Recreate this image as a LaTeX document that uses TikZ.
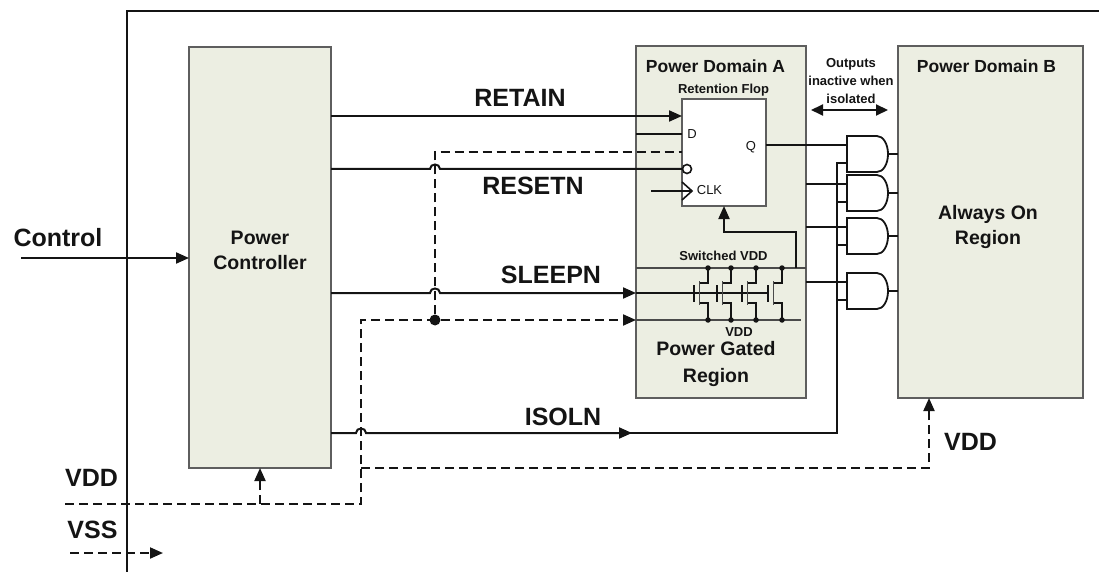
\documentclass[tikz,border=0pt]{standalone}
\usepackage{fontspec}
\setmainfont{Liberation Sans}
\usetikzlibrary{arrows.meta,calc}
\definecolor{boxfill}{HTML}{ECEEE2}
\definecolor{boxline}{HTML}{5E5E5E}
\definecolor{ink}{HTML}{141414}
\definecolor{rail}{HTML}{4A4A4A}
\tikzset{
  andg/.pic={
    \draw[draw=ink, fill=white, line width=1.8pt] (0,0) -- (30,0)
      .. controls (36.1,0) and (41,7.8) .. (41,18)
      .. controls (41,28.2) and (36.1,36) .. (30,36) -- (0,36) -- cycle;
    \coordinate (-in1) at (0,9);
    \coordinate (-in2) at (0,27);
    \coordinate (-out) at (41,18);
  }
}
\begin{document}
\begin{tikzpicture}[x=1pt,y=-1pt,
  box/.style={draw=boxline, fill=boxfill, line width=1.5pt, inner sep=0pt, outer sep=0pt},
  flopbox/.style={draw=boxline, fill=white, line width=1.5pt, inner sep=0pt, outer sep=0pt},
  wire/.style={draw=ink, line width=2pt},
  twire/.style={draw=ink, line width=1.6pt},
  railw/.style={draw=rail, line width=1.6pt},
  dwire/.style={draw=ink, line width=2pt, dash pattern=on 9pt off 5pt},
  tip/.style={-{Triangle[length=13pt,width=11pt]}},
  dtips/.style={{Triangle[length=12pt,width=11pt]}-{Triangle[length=12pt,width=11pt]}},
  sig/.style={font=\fontsize{25}{30}\selectfont\bfseries, text=ink, text height=17.9pt, text depth=0pt, inner sep=0pt},
  mid/.style={font=\fontsize{19.5}{24}\selectfont\bfseries, text=ink, text height=14pt, text depth=0pt, inner sep=0pt},
  dom/.style={font=\fontsize{17.5}{21}\selectfont\bfseries, text=ink, text height=12.5pt, text depth=0pt, inner sep=0pt},
  sml/.style={font=\fontsize{13}{16}\selectfont\bfseries, text=ink, text height=9.3pt, text depth=0pt, inner sep=0pt},
  pin/.style={font=\fontsize{13}{16}\selectfont, text=ink, text height=9.3pt, text depth=0pt, inner sep=0pt},
  dot/.style={circle, fill=ink, inner sep=0pt, minimum size=#1},
]
\useasboundingbox (0,0) rectangle (1099,572);

% outer frame
\coordinate (fbl) at (127,572);
\coordinate (ftl) at (127,11);
\coordinate (ftr) at (1099,11);
\draw[draw=ink, line width=2.2pt] (fbl) -- (ftl) -- (ftr);

% blocks
\node[box, minimum width=142pt, minimum height=421pt] (pc) at (260,257.5) {};
\node[box, minimum width=170pt, minimum height=352pt] (pda) at (721,222) {};
\node[box, minimum width=185pt, minimum height=352pt] (pdb) at (990.5,222) {};
\node[flopbox, minimum width=84pt, minimum height=107pt] (flop) at (724,152.5) {};

% control input
\coordinate (ctl) at (21,258);
\draw[wire,tip] (ctl) -- (ctl -| pc.west);

% RETAIN
\coordinate (ret) at (682,116);
\draw[wire,tip] (pc.east |- ret) -- (ret);

% D input
\coordinate (din) at (682,134);
\draw[twire] (pda.west |- din) -- (din);

% RESETN with hop
\coordinate (rs0) at (331,169);
\coordinate (rs1) at (682.5,169);
\draw[wire] (rs0) -- (430,169) .. controls (430,163) and (440,163) .. (440,169) -- (rs1);
\node[circle, draw=ink, fill=white, line width=1.6pt, minimum size=9pt, inner sep=0pt] (bub) at (687,169) {};

% CLK
\coordinate (clk0) at (651,191);
\coordinate (clk1) at (692,191);
\draw[twire] (clk0) -- (clk1);
\draw[twire] (682,182) -- (clk1) -- (682,200);

% rails
\coordinate (sw0) at (636,268);
\coordinate (sw1) at (806,268);
\coordinate (vd0) at (636,320);
\coordinate (vd1) at (801,320);
\draw[railw] (sw0) -- (sw1);
\draw[railw] (vd0) -- (vd1);

% flop power from switched rail
\coordinate (fp0) at (796,268);
\draw[wire,tip] (fp0) -- (796,232) -- (724,232) -- (flop.south);

% SLEEPN with hop
\coordinate (sl0) at (331,293);
\coordinate (sl1) at (636,293);
\coordinate (sl2) at (768,293);
\draw[wire,tip] (sl0) -- (430,293) .. controls (430,287) and (440,287) .. (440,293) -- (sl1);
\draw[twire] (sl1) -- (sl2);

% transistors
\foreach \cx in {708,731,756,782} {
  \draw[twire] (\cx,268) -- (\cx,283) -- (\cx-8.5,283);
  \draw[draw=rail, line width=1.6pt] (\cx-8.5,281) -- (\cx-8.5,305);
  \draw[twire] (\cx-8.5,303) -- (\cx,303) -- (\cx,320);
  \draw[twire] (\cx-14,285) -- (\cx-14,302);
  \node[dot=5.5pt] at (\cx,268) {};
  \node[dot=5.5pt] at (\cx,320) {};
}

% isolation gates
\pic (g1) at (847,136) {andg};
\pic (g2) at (847,175) {andg};
\pic (g3) at (847,218) {andg};
\pic (g4) at (847,273) {andg};
\draw[twire] (flop.east |- g1-in1) -- (g1-in1);
\draw[twire] (pda.east |- g2-in1) -- (g2-in1);
\draw[twire] (pda.east |- g3-in1) -- (g3-in1);
\draw[twire] (pda.east |- g4-in1) -- (g4-in1);
\foreach \g in {g1,g2,g3,g4} {
  \draw[twire] (\g-out) -- (pdb.west |- \g-out);
}

% ISOLN
\coordinate (is0) at (331,433);
\coordinate (isa) at (632,433);
\coordinate (isc) at (837,433);
\draw[wire,tip] (is0) -- (356,433) .. controls (356,427) and (366,427) .. (366,433) -- (isa);
\draw[wire] (625,433) -- (isc) -- (isc |- g1-in2) -- (g1-in2);
\draw[twire] (isc |- g2-in2) -- (g2-in2);
\draw[twire] (isc |- g3-in2) -- (g3-in2);
\draw[twire] (isc |- g4-in2) -- (g4-in2);

% VDD distribution (dashed)
\coordinate (vddl) at (65,504);
\coordinate (vc) at (361,504);
\coordinate (vbr) at (361,468);
\coordinate (vbB) at (929,468);
\draw[dwire,tip] (vddl) -- (vc) -- (361,320) -- (vd0);
\draw[dwire,tip] (vbr) -- (vbB) -- (vbB |- pdb.south);
\coordinate (pcv) at (260,504);
\draw[dwire,tip] (pcv) -- (pc.south);
\node[dot=11pt] (jn) at (435,320) {};
\coordinate (rtd) at (682,152);
\draw[dwire] (jn) -- (435,152) -- (rtd);

% VSS
\coordinate (vss0) at (70,553);
\coordinate (vss1) at (163,553);
\draw[dwire,tip] (vss0) -- (vss1);

% outputs inactive arrow
\coordinate (oa0) at (811,110);
\coordinate (oa1) at (888,110);
\draw[wire,dtips] (oa0) -- (oa1);

% texts
\node[sig] (tctl) at (58,238) {Control};
\node[mid] (tpc1) at (260,237) {Power};
\node[mid] (tpc2) at (260,262) {Controller};
\node[sig] (tret) at (520,97.5) {RETAIN};
\node[sig] (trs) at (533,186) {RESETN};
\node[sig] (tsl) at (551,274.5) {SLEEPN};
\node[sig] (tis) at (563,416.5) {ISOLN};
\node[dom] (tpa) at (715.5,66) {Power Domain A};
\node[sml] (tflop) at (723.5,89) {Retention Flop};
\node[pin] (td) at (692,134) {D};
\node[pin] (tq) at (751,146) {Q};
\node[pin] (tclk) at (709.5,190) {CLK};
\node[sml] (tsw) at (723.5,256) {Switched VDD};
\node[sml] (tvd) at (739,332) {VDD};
\node[mid] (tpg1) at (716,348) {Power Gated};
\node[mid] (tpg2) at (716,375) {Region};
\node[sml] (to1) at (851,63) {Outputs};
\node[sml] (to2) at (851,81) {inactive when};
\node[sml] (to3) at (851,99) {isolated};
\node[dom] (tpb) at (986.5,66) {Power Domain B};
\node[mid] (tao1) at (988,212) {Always On};
\node[mid] (tao2) at (988,237) {Region};
\node[sig] (tvddb) at (970.5,442) {VDD};
\node[sig] (tvddl) at (91.5,478) {VDD};
\node[sig] (tvss) at (92.5,530) {VSS};
\end{tikzpicture}
\end{document}
